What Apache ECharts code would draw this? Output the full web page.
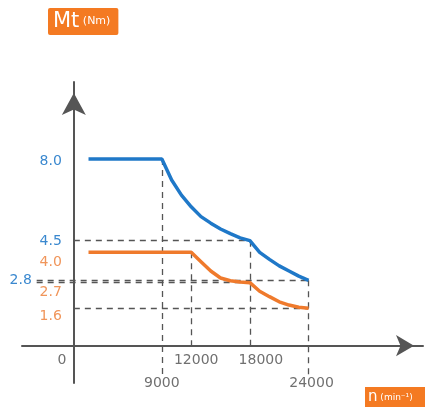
<!DOCTYPE html>
<html>
<head>
<meta charset="utf-8">
<script src="https://cdn.jsdelivr.net/npm/echarts@6/dist/echarts.min.js"></script>
<style>
html,body{margin:0;padding:0;background:#fff;}
#c{width:425px;height:407px;}
</style>
</head>
<body>
<div id="c"></div>
<script>
// Blue curve (Mt, Nm) vs speed n (min^-1)
const blueSpeed  = [1500, 9000, 9500, 10000, 11000, 12000, 13000, 14000, 15000, 16000, 17000, 18000, 19000, 20000, 21000, 22000, 23000, 24000];
const blueTorque = [8.0,  8.0,  7.55, 7.1,   6.45,  5.95,  5.53,  5.25,  5.0,   4.8,   4.62,  4.5,   4.0,   3.7,   3.42,  3.2,   2.98,  2.8];
// Orange curve
const orangeSpeed  = [1500, 12000, 13000, 14000, 15000, 16000, 17000, 18000, 19000, 20000, 21000, 22000, 23000, 24000];
const orangeTorque = [4.0,  4.0,   3.6,   3.2,   2.9,   2.78,  2.73,  2.7,   2.33,  2.1,   1.88,  1.74,  1.65,  1.6];

// Axis labels
const xTickValues = [0, 9000, 12000, 18000, 24000];
const xTickLabels = ['0', '9000', '12000', '18000', '24000'];
const yTickValues = [8.0, 4.5, 4.0, 2.8, 2.7, 1.6];
const yTickLabels = ['8.0', '4.5', '4.0', '2.8', '2.7', '1.6'];
const yTickSeries = ['blue', 'blue', 'orange', 'blue', 'orange', 'orange'];

// Reference (dashed) lines: [x1, y1, x2, y2]
const guideLines = [
  [9000, 8.0, 9000, -1.4],
  [12000, 4.0, 12000, 0],
  [18000, 4.5, 18000, 0],
  [24000, 2.8, 24000, -1.4],
  [0, 4.5, 18000, 4.5],
  [-3800, 2.8, 24000, 2.8],
  [-3800, 2.7, 18000, 2.7],
  [0, 1.6, 24000, 1.6]
];

const BLUE = '#1f78c8';
const ORANGE = '#ef7a2c';
const AXIS = '#555555';

const X_MIN = -5300, X_MAX = 35700, Y_MIN = -1.6, Y_MAX = 11.3;
const G_LEFT = 22, G_RIGHT = 2, G_TOP = 82, G_BOTTOM = 24;
const W = 425, H = 407;
const gw = W - G_LEFT - G_RIGHT, gh = H - G_TOP - G_BOTTOM;
// move axes (line + labels) onto the origin
const yAxisOffset = -(0 - X_MIN) / (X_MAX - X_MIN) * gw;
const xAxisOffset = -(0 - Y_MIN) / (Y_MAX - Y_MIN) * gh;

const xPad = {
  '0': [0, 24, 0, 0],
  '9000': [23, 0, 0, 0],
  '12000': [0, 0, 0, 10],
  '18000': [0, 0, 0, 22],
  '24000': [23, 0, 0, 6]
};
const yPad = {
  '8.0': [4, 0, 0, 0],
  '4.5': [2, 0, 0, 0],
  '4.0': [20, 0, 0, 0],
  '2.8': [0, 30, 0, 0],
  '2.7': [20, 0, 0, 0],
  '1.6': [16, 0, 0, 0]
};

const xRich = {}, yRich = {};
xTickLabels.forEach((t, i) => {
  xRich['x' + i] = {padding: xPad[t], fontSize: 14, color: '#707070', fontFamily: 'DejaVu Sans'};
});
yTickLabels.forEach((t, i) => {
  yRich['y' + i] = {padding: yPad[t], fontSize: 14, fontFamily: 'DejaVu Sans',
    color: yTickSeries[i] === 'blue' ? '#3a88cf' : '#f0955a'};
});
function nearestIndex(arr, v) {
  let best = 0;
  arr.forEach((a, i) => { if (Math.abs(a - v) < Math.abs(arr[best] - v)) best = i; });
  return best;
}

const chart = echarts.init(document.getElementById('c'), null, {renderer: 'canvas'});
chart.setOption({
  animation: false,
  grid: {left: G_LEFT, right: G_RIGHT, top: G_TOP, bottom: G_BOTTOM, containLabel: false, outerBoundsMode: 'none'},
  xAxis: {
    type: 'value', min: X_MIN, max: X_MAX, offset: xAxisOffset,
    axisLine: {show: true, onZero: false, symbol: ['none', 'arrow'], symbolSize: [16, 18], symbolOffset: [0, -9],
      lineStyle: {color: AXIS, width: 2}},
    axisTick: {show: false},
    splitLine: {show: false},
    axisLabel: {
      customValues: xTickValues, margin: 8, hideOverlap: false,
      formatter: function (v) {
        const i = nearestIndex(xTickValues, Number(v));
        return '{x' + i + '|' + xTickLabels[i] + '}';
      },
      rich: xRich
    }
  },
  yAxis: {
    type: 'value', min: Y_MIN, max: Y_MAX, offset: yAxisOffset,
    axisLine: {show: true, onZero: false, symbol: ['none', 'arrow'], symbolSize: [18, 22], symbolOffset: [0, -11],
      lineStyle: {color: AXIS, width: 2}},
    axisTick: {show: false},
    splitLine: {show: false},
    axisLabel: {
      customValues: yTickValues, margin: 12, hideOverlap: false,
      formatter: function (v) {
        const i = nearestIndex(yTickValues, Number(v));
        return '{y' + i + '|' + yTickLabels[i] + '}';
      },
      rich: yRich
    }
  },
  series: [
    {
      type: 'line', name: 'blue', symbol: 'none', clip: false,
      data: blueSpeed.map((s, i) => [s, blueTorque[i]]),
      lineStyle: {color: BLUE, width: 3.5}, z: 5,
      markLine: {
        silent: true, symbol: 'none', label: {show: false},
        lineStyle: {color: AXIS, width: 1.3, type: [6, 5]},
        data: guideLines.map(g => [{coord: [g[0], g[1]]}, {coord: [g[2], g[3]]}])
      }
    },
    {
      type: 'line', name: 'orange', symbol: 'none', clip: false,
      data: orangeSpeed.map((s, i) => [s, orangeTorque[i]]),
      lineStyle: {color: ORANGE, width: 3.5}, z: 5
    }
  ],
  graphic: [
    {
      type: 'text', left: 48, top: 8, z: 10,
      style: {
        text: '{a|Mt}{b| (Nm)}',
        backgroundColor: '#f47a22', padding: [3, 8, 3, 5], borderRadius: 2,
        fill: '#fff',
        rich: {
          a: {fontSize: 21, fill: '#fff', fontFamily: 'DejaVu Sans', verticalAlign: 'middle'},
          b: {fontSize: 11, fill: '#fff', fontFamily: 'DejaVu Sans', verticalAlign: 'middle'}
        }
      }
    },
    {
      type: 'text', left: 365, top: 387, z: 10,
      style: {
        text: '{a|n}{b| (min⁻¹)}',
        backgroundColor: '#f47a22', padding: [3, 14, 6, 3],
        fill: '#fff',
        rich: {
          a: {fontSize: 15, fill: '#fff', fontFamily: 'DejaVu Sans'},
          b: {fontSize: 9, fill: '#fff', fontFamily: 'DejaVu Sans'}
        }
      }
    }
  ]
});
</script>
</body>
</html>
